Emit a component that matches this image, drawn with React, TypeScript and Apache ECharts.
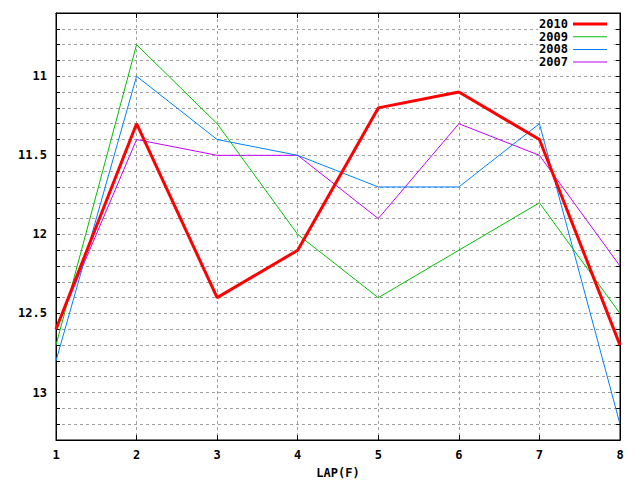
import React, { useEffect, useRef } from "react";
import * as echarts from "echarts";

const laps = ["1", "2", "3", "4", "5", "6", "7", "8"];
const seriesNames = ["2010", "2009", "2008", "2007"];
const s2010 = [12.6, 11.3, 12.4, 12.1, 11.2, 11.1, 11.4, 12.7];
const s2009 = [12.7, 10.8, 11.3, 12.0, 12.4, 12.1, 11.8, 12.5];
const s2008 = [12.8, 11.0, 11.4, 11.5, 11.7, 11.7, 11.3, 13.2];
const s2007 = [12.6, 11.4, 11.5, 11.5, 11.9, 11.3, 11.5, 12.2];
const seriesValues = [s2010, s2009, s2008, s2007];
const seriesColors = ["#ff0000", "#00c000", "#0080ff", "#c000ff"];
const seriesWidths = [3, 1, 1, 1];

const FONT = "DejaVu Sans Mono";

export default function App() {
  const ref = useRef<HTMLDivElement>(null);
  useEffect(() => {
    if (!ref.current) return;
    const chart = echarts.init(ref.current, null, { renderer: "svg" });
    const yLabel = (v: number) => {
      const r = Math.round(v * 10);
      return r % 5 === 0 ? String(r / 10) : "";
    };
    const yBase = {
      type: "value",
      inverse: true,
      min: 10.6,
      max: 13.3,
      interval: 0.1,
    };
    chart.setOption({
      animation: false,
      backgroundColor: "#ffffff",
      grid: {
        left: 56,
        right: 20,
        top: 13,
        bottom: 40,
        outerBoundsMode: "none",
        containLabel: false,
        show: true,
        borderColor: "#000",
        borderWidth: 1,
        backgroundColor: "transparent",
      },
      legend: {
        orient: "vertical",
        right: 28,
        top: 14,
        align: "right",
        padding: [4, 5, 4, 1],
        backgroundColor: "#ffffff",
        itemWidth: 34,
        itemHeight: 12,
        itemGap: 0.7,
        symbolKeepAspect: true,
        textStyle: { fontFamily: FONT, fontWeight: "bold", fontSize: 12, color: "#000" },
        data: seriesNames.map((name, i) => ({
          name,
          icon: seriesWidths[i] > 1 ? "path://M0,0H34V3H0Z" : "path://M0,0H34V1H0Z",
          itemStyle: { color: seriesColors[i], borderWidth: 0 },
        })),
      },
      xAxis: [
        {
          type: "category",
          data: laps,
          boundaryGap: false,
          name: "LAP(F)",
          nameLocation: "middle",
          nameGap: 27,
          nameTextStyle: { fontFamily: FONT, fontWeight: "bold", fontSize: 12, color: "#000" },
          axisLine: { show: true, lineStyle: { color: "#000" } },
          axisTick: { show: true, inside: true, length: 5, lineStyle: { color: "#000" } },
          axisLabel: { fontFamily: FONT, fontWeight: "bold", fontSize: 12, color: "#000", margin: 9 },
          splitLine: { show: true, lineStyle: { color: "#a0a0a0", type: [3, 3], width: 1 } },
        },
        {
          type: "category",
          data: laps,
          boundaryGap: false,
          position: "top",
          axisLine: { show: true, lineStyle: { color: "#000" } },
          axisTick: { show: true, inside: true, length: 5, lineStyle: { color: "#000" } },
          axisLabel: { show: false },
          splitLine: { show: false },
        },
      ],
      yAxis: [
        {
          ...yBase,
          axisLine: { show: true, lineStyle: { color: "#000" } },
          axisTick: { show: true, inside: true, length: 4, lineStyle: { color: "#000" } },
          axisLabel: {
            fontFamily: FONT,
            fontWeight: "bold",
            fontSize: 12,
            color: "#000",
            margin: 9,
            formatter: yLabel,
          },
          splitLine: { show: true, lineStyle: { color: "#a0a0a0", type: [3, 3], width: 1 } },
        },
        {
          ...yBase,
          position: "right",
          axisLine: { show: true, lineStyle: { color: "#000" } },
          axisTick: { show: true, inside: true, length: 4, lineStyle: { color: "#000" } },
          axisLabel: { show: false },
          splitLine: { show: false },
        },
      ],
      series: seriesNames.map((name, i) => ({
        name,
        type: "line",
        data: seriesValues[i],
        xAxisIndex: 0,
        yAxisIndex: 0,
        symbol: "none",
        showSymbol: false,
        color: seriesColors[i],
        lineStyle: { color: seriesColors[i], width: seriesWidths[i] },
        z: 10 - i,
      })),
    });
    return () => chart.dispose();
  }, []);
  return (
    <div
      ref={ref}
      style={{ position: "fixed", left: 0, top: 0, width: 640, height: 480, background: "#fff" }}
    />
  );
}
